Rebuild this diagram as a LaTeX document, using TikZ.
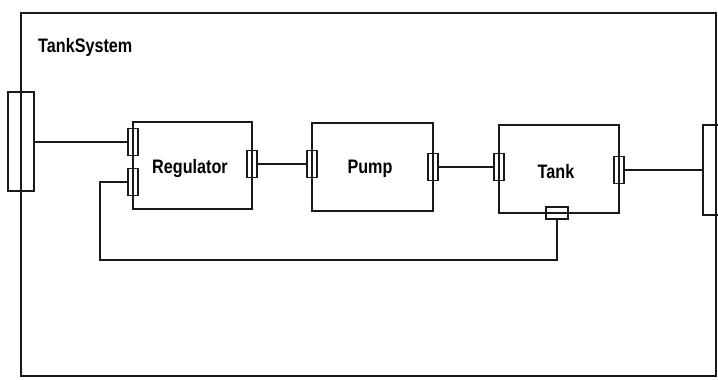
\documentclass[tikz,border=0pt]{standalone}
\usepackage{fontspec}
\newfontfamily\lblfont{Liberation Sans}[FakeStretch=0.83]
\begin{document}
\begin{tikzpicture}[x=1pt,y=-1pt,
  line join=miter,
  blk/.style={draw=black!90,line width=2pt,rectangle,inner sep=0pt},
  sideport/.style={draw=black!90,line width=1.4pt,rectangle,inner sep=0pt,minimum width=10pt,minimum height=27pt},
  wire/.style={draw=black!90,line width=2pt},
  lbl/.style={font=\lblfont\bfseries\fontsize{19.5}{22}\selectfont,inner sep=0pt}]
\useasboundingbox (0,0) rectangle (718,380);
% outer frame
\node[blk,minimum width=695pt,minimum height=363pt] (frame) at (368.5,194.5) {};
\node[lbl,anchor=base west] (title) at (38,52) {TankSystem};
% components
\node[blk,minimum width=119pt,minimum height=87pt] (reg) at (192.5,165.5) {};
\node[blk,minimum width=121pt,minimum height=88pt] (pump) at (372.5,167) {};
\node[blk,minimum width=120pt,minimum height=88pt] (tank) at (559,169) {};
\node[lbl,anchor=base] (regl) at (190,173) {Regulator};
\node[lbl,anchor=base] (pumpl) at (370,173) {Pump};
\node[lbl,anchor=base] (tankl) at (556,178) {Tank};
% ports
\node[sideport,minimum width=26pt,minimum height=99pt] (lp) at (21,141.5) {};
\node[sideport,minimum width=26pt,minimum height=90pt] (rp) at (716,170) {};
\node[sideport] (rg1) at (133,142) {};
\node[sideport] (rg2) at (133,182) {};
\node[sideport] (rg3) at (252,164) {};
\node[sideport] (pm1) at (312,164) {};
\node[sideport] (pm2) at (433,167) {};
\node[sideport] (tk1) at (499,167) {};
\node[sideport] (tk2) at (619,170) {};
\node[sideport,minimum width=22pt,minimum height=12pt] (tk3) at (557,213) {};
\coordinate (fb) at (100,260);
% connectors
\draw[wire] (lp.east |- rg1.west) -- (rg1.west);
\draw[wire] (rg3.east) -- (pm1.west);
\draw[wire] (pm2.east) -- (tk1.west);
\draw[wire] (tk2.east) -- (rp.west);
\draw[wire] (tk3.south) |- (fb) |- (rg2.west);
\end{tikzpicture}
\end{document}
